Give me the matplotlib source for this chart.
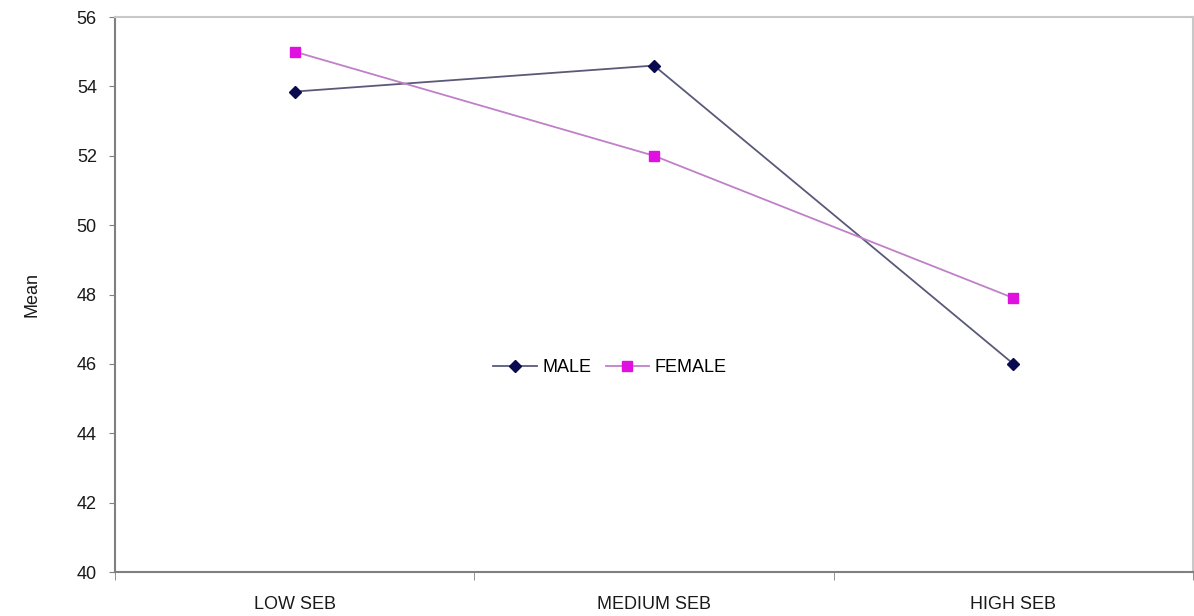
import matplotlib
matplotlib.use("Agg")
import matplotlib.pyplot as plt

plt.rcParams["font.family"] = ["Liberation Sans", "DejaVu Sans"]

categories = ["LOW SEB", "MEDIUM SEB", "HIGH SEB"]
male = [53.85, 54.6, 46.0]
female = [55.0, 52.0, 47.9]
yticks = [40, 42, 44, 46, 48, 50, 52, 54, 56]

fig = plt.figure(figsize=(11.94, 6.16), dpi=100)
ax = fig.add_axes([0.0963, 0.0714, 0.9029, 0.901])

x = list(range(len(categories)))
ax.plot(x, male, color="#5a5a78", lw=1.3, marker="D", ms=6,
        mfc="#0a0a50", mec="#0a0a50", label="MALE")
ax.plot(x, female, color="#c080c8", lw=1.3, marker="s", ms=7.5,
        mfc="#e010e0", mec="#e010e0", label="FEMALE")

ax.set_xlim(-0.5, 2.5)
ax.set_ylim(40, 56)
ax.set_yticks(yticks)
ax.set_xticks(x)
ax.set_xticklabels(categories)
ax.set_xticks([-0.5, 0.5, 1.5, 2.5], minor=True)
ax.tick_params(axis="x", which="major", length=0, pad=17, labelsize=13, labelcolor="#1a1a1a")
ax.tick_params(axis="x", which="minor", length=6, direction="out", color="#808080")
ax.tick_params(axis="y", length=4, direction="out", color="#808080", pad=9, labelsize=13,
               labelcolor="#1a1a1a")

for side in ["left", "bottom"]:
    ax.spines[side].set_color("#808080")
    ax.spines[side].set_linewidth(1.5)
for side in ["top", "right"]:
    ax.spines[side].set_color("#c8c8c8")
    ax.spines[side].set_linewidth(1.5)

ax.set_ylabel("Mean", fontsize=13, labelpad=26, color="#1a1a1a")

ax.legend(loc="center", bbox_to_anchor=(0.459, 0.368), ncol=2, frameon=False,
          fontsize=13, handlelength=2.4, handletextpad=0.3, columnspacing=0.8)

fig.savefig("out.png", dpi=100)
